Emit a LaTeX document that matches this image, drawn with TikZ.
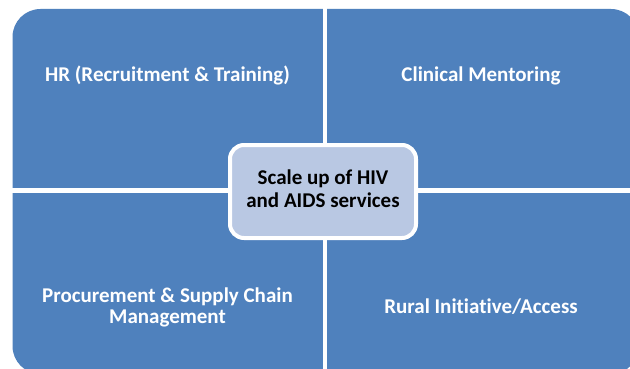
\documentclass[tikz,border=0pt]{standalone}
\usepackage{fontspec}
\setmainfont{Carlito}[Ligatures=NoCommon]
\usepackage{tikz}

\definecolor{quadblue}{HTML}{4F81BD}
\definecolor{hubblue}{HTML}{B9C8E3}

\begin{document}
\begin{tikzpicture}[x=1pt,y=-1pt]
\tikzstyle{every node}+=[inner sep=0pt, align=center]
\tikzstyle{quadtext}=[text=white, font=\bfseries\fontsize{21}{23}\selectfont]
\useasboundingbox (0,0) rectangle (630,369);
\clip (0,0) rectangle (630,369);
\fill [white] (0,0) rectangle (630,369);
% four quadrants, cut by white gaps
\fill [quadblue, rounded corners=28pt] (12.5,9) rectangle (639,374);
\draw [white, line width=4.3pt] (324.8,0) -- (324.8,380);
\draw [white, line width=5pt] (0,190.2) -- (640,190.2);
% quadrant labels
\node [quadtext] (hr) at (167.5,77.4) {\strut HR (Recruitment \& Training)};
\node [quadtext] (mentor) at (481,77.4) {\strut Clinical Mentoring};
\node [quadtext, font=\bfseries\fontsize{21}{21}\selectfont] (supply) at (167.5,308.3) {\strut Procurement \& Supply Chain\\\strut Management};
\node [quadtext] (rural) at (481,308.4) {\strut Rural Initiative/Access};
% centre box
\node [draw=white, line width=4pt, fill=hubblue, rounded corners=14pt,
       minimum width=186pt, minimum height=93pt,
       font=\bfseries\fontsize{21}{23}\selectfont] (hub) at (323,191.5)
      {\strut Scale up of HIV\\\strut and AIDS services};
\end{tikzpicture}
\end{document}
